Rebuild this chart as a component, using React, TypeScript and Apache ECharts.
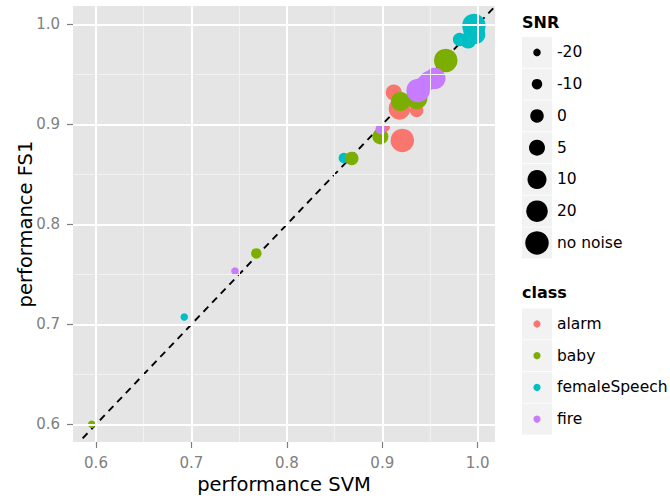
import React, { useEffect, useRef } from "react";
import * as echarts from "echarts";

const snrLevels = ["-20", "-10", "0", "5", "10", "20", "no noise"];
const snrSizes = [7.5, 10.5, 13.5, 16, 19, 21.5, 23.5];

const classNames = ["alarm", "baby", "femaleSpeech", "fire"];
const classColors = ["#F8766D", "#7CAE00", "#00BFC4", "#C77CFF"];

const snrOrder = ["-20", "-10", "0", "5", "10", "20", "no noise"];

const alarmSvm = [0.904, 0.915, 0.936, 0.912, 0.917, 0.918, 0.921];
const alarmFs1 = [0.897, 0.913, 0.914, 0.932, 0.917, 0.9155, 0.884];

const babySvm = [0.5955, 0.768, 0.868, 0.898, 0.919, 0.936, 0.9665];
const babyFs1 = [0.6, 0.771, 0.866, 0.888, 0.923, 0.926, 0.964];

const speechSvm = [0.6925, 0.8597, 0.981, 0.99, 0.998, 0.996, 0.996];
const speechFs1 = [0.7073, 0.8664, 0.985, 0.984, 0.99, 0.994, 0.999];

const fireSvm = [0.7456, 0.8984, 0.94, 0.944, 0.949, 0.955, 0.9375];
const fireFs1 = [0.7534, 0.8954, 0.938, 0.941, 0.944, 0.946, 0.934];

const xTicks = [0.6, 0.7, 0.8, 0.9, 1.0];
const yTicks = [0.6, 0.7, 0.8, 0.9, 1.0];
const xMinor = [0.65, 0.75, 0.85, 0.95];
const yMinor = [0.65, 0.75, 0.85, 0.95];

const X_MIN = 0.5759;
const X_MAX = 1.0181;
const Y_MIN = 0.5823;
const Y_MAX = 1.0185;

const FONT = "DejaVu Sans";

function buildPoints(svm: number[], fs1: number[]) {
  return svm.map((v, i) => [v, fs1[i], snrOrder[i]]);
}

export default function App() {
  const ref = useRef<HTMLDivElement>(null);
  useEffect(() => {
    if (!ref.current) return;
    const chart = echarts.init(ref.current, undefined, { renderer: "svg" });

    const classData = [
      { name: "femaleSpeech", pts: buildPoints(speechSvm, speechFs1) },
      { name: "alarm", pts: buildPoints(alarmSvm, alarmFs1) },
      { name: "baby", pts: buildPoints(babySvm, babyFs1) },
      { name: "fire", pts: buildPoints(fireSvm, fireFs1) },
    ];

    const gridLines: any[] = [];
    xMinor.forEach((v) =>
      gridLines.push({ xAxis: v, lineStyle: { color: "#F2F2F2", width: 1, type: "solid" } })
    );
    yMinor.forEach((v) =>
      gridLines.push({ yAxis: v, lineStyle: { color: "#F2F2F2", width: 1, type: "solid" } })
    );
    xTicks.forEach((v) =>
      gridLines.push({ xAxis: v, lineStyle: { color: "#FFFFFF", width: 2, type: "solid" } })
    );
    yTicks.forEach((v) =>
      gridLines.push({ yAxis: v, lineStyle: { color: "#FFFFFF", width: 2, type: "solid" } })
    );

    const series: any[] = [
      {
        type: "line",
        name: "grid",
        data: [],
        z: 1,
        silent: true,
        markLine: {
          silent: true,
          symbol: ["none", "none"],
          label: { show: false },
          emphasis: { disabled: true },
          data: gridLines,
        },
      },
      {
        type: "line",
        name: "identity",
        data: [
          [0.586, 0.586],
          [Y_MAX + 0.01, Y_MAX + 0.01],
        ],
        showSymbol: false,
        symbol: "none",
        clip: true,
        z: 2,
        lineStyle: { color: "#000000", width: 1.9, type: [7, 5.5] },
        silent: true,
      },
    ];

    classData.forEach((c) => {
      const idx = classNames.indexOf(c.name);
      series.push({
        type: "scatter",
        name: c.name,
        data: c.pts,
        z: 3,
        symbol: "circle",
        symbolSize: (val: any[]) => snrSizes[snrLevels.indexOf(val[2])],
        itemStyle: { color: classColors[idx], opacity: 1 },
      });
    });

    const graphics: any[] = [];
    const keyX = 522;
    const keyW = 30;
    const keyH = 31;
    // SNR legend
    graphics.push({
      type: "text",
      left: keyX,
      top: 14,
      style: { text: "SNR", font: `bold 16px "${FONT}"`, fill: "#000" },
    });
    snrLevels.forEach((lab, i) => {
      const cy = 52.4 + i * 31.75;
      graphics.push({
        type: "rect",
        shape: { x: keyX, y: cy - keyH / 2, width: keyW, height: keyH },
        style: { fill: "#F2F2F2" },
      });
      graphics.push({
        type: "circle",
        shape: { cx: keyX + keyW / 2, cy, r: snrSizes[i] / 2 },
        style: { fill: "#000" },
      });
      graphics.push({
        type: "text",
        x: 557,
        y: cy,
        style: {
          text: lab,
          font: `15.5px "${FONT}"`,
          fill: "#000",
          textVerticalAlign: "middle",
          verticalAlign: "middle",
        },
      });
    });
    // class legend
    graphics.push({
      type: "text",
      left: keyX,
      top: 284,
      style: { text: "class", font: `bold 16px "${FONT}"`, fill: "#000" },
    });
    classNames.forEach((lab, i) => {
      const cy = 324 + i * 31.7;
      graphics.push({
        type: "rect",
        shape: { x: keyX, y: cy - keyH / 2, width: keyW, height: keyH },
        style: { fill: "#F2F2F2" },
      });
      graphics.push({
        type: "circle",
        shape: { cx: keyX + keyW / 2, cy, r: 3.6 },
        style: { fill: classColors[i] },
      });
      graphics.push({
        type: "text",
        x: 557,
        y: cy,
        style: {
          text: lab,
          font: `15.5px "${FONT}"`,
          fill: "#000",
          textVerticalAlign: "middle",
          verticalAlign: "middle",
        },
      });
    });

    chart.setOption({
      animation: false,
      backgroundColor: "#FFFFFF",
      textStyle: { fontFamily: FONT },
      grid: {
        left: 73,
        top: 6,
        right: 175,
        bottom: 56,
        show: true,
        backgroundColor: "#E5E5E5",
        borderWidth: 0,
        containLabel: false,
        outerBoundsMode: "none",
      },
      xAxis: {
        type: "value",
        min: X_MIN,
        max: X_MAX,
        name: "performance SVM",
        nameLocation: "middle",
        nameGap: 32,
        nameMoveOverlap: false,
        nameTextStyle: { fontSize: 19.5, color: "#000", fontFamily: FONT },
        axisLine: { show: false },
        splitLine: { show: false },
        axisTick: {
          show: true,
          length: 6,
          customValues: xTicks,
          lineStyle: { color: "#7F7F7F", width: 1.2 },
        },
        axisLabel: {
          customValues: xTicks,
          margin: 13,
          fontSize: 15,
          color: "#7F7F7F",
          fontFamily: FONT,
          formatter: (v: number) => v.toFixed(1),
        },
      },
      yAxis: {
        type: "value",
        min: Y_MIN,
        max: Y_MAX,
        name: "performance FS1",
        nameLocation: "middle",
        nameGap: 38,
        nameRotate: 90,
        nameMoveOverlap: false,
        nameTextStyle: { fontSize: 19.5, color: "#000", fontFamily: FONT },
        axisLine: { show: false },
        splitLine: { show: false },
        axisTick: {
          show: true,
          length: 6,
          customValues: yTicks,
          lineStyle: { color: "#7F7F7F", width: 1.2 },
        },
        axisLabel: {
          customValues: yTicks,
          margin: 13,
          fontSize: 15,
          color: "#7F7F7F",
          fontFamily: FONT,
          formatter: (v: number) => v.toFixed(1),
        },
      },
      series,
      graphic: graphics,
    });

    return () => {
      chart.dispose();
    };
  }, []);

  return <div ref={ref} style={{ width: 670, height: 498, position: "absolute", left: 0, top: 0 }} />;
}
